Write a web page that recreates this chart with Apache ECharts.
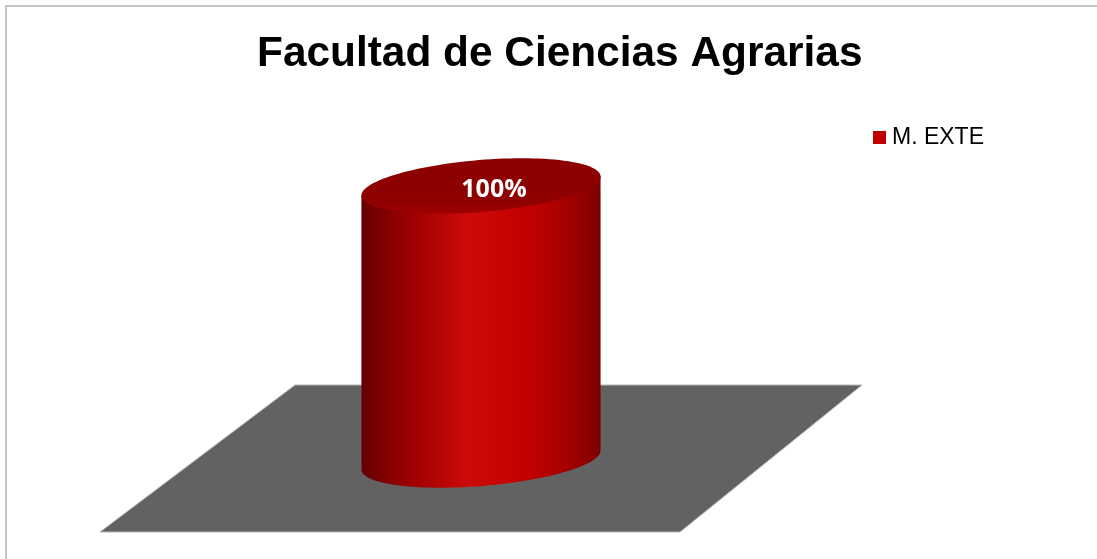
<!DOCTYPE html>
<html>
<head>
<meta charset="utf-8">
<script src="https://cdn.jsdelivr.net/npm/echarts@6/dist/echarts.min.js"></script>
<style>
  html, body { margin: 0; padding: 0; background: #fff; }
  #chart { width: 1097px; height: 559px; }
</style>
</head>
<body>
<div id="chart"></div>
<script>
// datos
var categories = ['M. EXTE'];
var values = [100];
var seriesName = 'M. EXTE';

var chart = echarts.init(document.getElementById('chart'));

// punto sobre una elipse inclinada (derecha mas alta)
function ellipsePt(cx, cy, rx, ry, phi, t) {
    return [
        cx + rx * Math.cos(t) * Math.cos(phi) + ry * Math.sin(t) * Math.sin(phi),
        cy - rx * Math.cos(t) * Math.sin(phi) + ry * Math.sin(t) * Math.cos(phi)
    ];
}

function renderFloor(params, api) {
    var base = api.coord([api.value(0), 0]);
    var cx = base[0], cy = base[1];
    return {
        type: 'polygon',
        shape: {
            points: [
                [cx - 186, cy - 75],
                [cx + 381, cy - 75],
                [cx + 199, cy + 72],
                [cx - 381, cy + 72]
            ]
        },
        style: { fill: '#626262', stroke: '#b8b8b8', lineWidth: 1 },
        silent: true
    };
}

function renderCylinder(params, api) {
    var bottom = api.coord([api.value(0), 0]);
    var top = api.coord([api.value(0), api.value(1)]);
    var rx = 120, ry = 26, phi = 0.083;
    var i, t;

    var body = [];
    body.push(ellipsePt(top[0], top[1], rx, ry, phi, Math.PI));
    for (i = 0; i <= 60; i++) {
        t = Math.PI - Math.PI * i / 60;
        body.push(ellipsePt(bottom[0], bottom[1], rx, ry, phi, t));
    }
    body.push(ellipsePt(top[0], top[1], rx, ry, phi, 0));

    var cap = [];
    for (i = 0; i < 120; i++) {
        t = Math.PI * 2 * i / 120;
        cap.push(ellipsePt(top[0], top[1], rx, ry, phi, t));
    }

    return {
        type: 'group',
        children: [
            {
                type: 'polygon',
                shape: { points: body },
                style: {
                    fill: new echarts.graphic.LinearGradient(0, 0, 1, 0, [
                        { offset: 0, color: '#650000' },
                        { offset: 0.2, color: '#9c0000' },
                        { offset: 0.45, color: '#cd0a0a' },
                        { offset: 0.7, color: '#c20000' },
                        { offset: 0.88, color: '#a00000' },
                        { offset: 1, color: '#7c0000' }
                    ])
                }
            },
            {
                type: 'polygon',
                shape: { points: cap },
                style: {
                    fill: new echarts.graphic.LinearGradient(0, 0, 0, 1, [
                        { offset: 0, color: '#8c0000' },
                        { offset: 0.8, color: '#900000' },
                        { offset: 1, color: '#a00000' }
                    ])
                }
            },
            {
                type: 'text',
                style: {
                    x: top[0] + 13,
                    y: top[1] + 4,
                    text: api.value(1) + '%',
                    fill: '#fff',
                    font: 'bold 25px "Open Sans", "Liberation Sans", sans-serif',
                    align: 'center',
                    verticalAlign: 'middle'
                }
            }
        ]
    };
}

var option = {
    backgroundColor: '#fff',
    animation: false,
    title: {
        text: 'Facultad de Ciencias Agrarias',
        left: 252,
        top: 28,
        textStyle: {
            fontFamily: '"Liberation Sans", Arial, sans-serif',
            fontSize: 42.4,
            fontWeight: 'bold',
            color: '#000'
        }
    },
    legend: {
        data: [seriesName],
        left: 868,
        top: 121,
        icon: 'rect',
        itemWidth: 13,
        itemHeight: 13,
        itemGap: 4,
        textStyle: {
            fontFamily: '"Liberation Sans", Arial, sans-serif',
            fontSize: 23,
            color: '#000',
            padding: [0, 0, 0, 1]
        }
    },
    grid: { left: 200, right: 335, top: 186, bottom: 99 },
    xAxis: { type: 'category', data: categories, show: false },
    yAxis: { type: 'value', min: 0, max: 100, show: false },
    graphic: [{
        type: 'rect',
        shape: { x: 6, y: 6, width: 1200, height: 700 },
        style: { fill: 'none', stroke: '#c6c6c6', lineWidth: 2 },
        silent: true
    }],
    series: [
        {
            name: 'suelo',
            type: 'custom',
            renderItem: renderFloor,
            data: categories.map(function (c, i) { return [i, values[i]]; }),
            silent: true,
            z: 1
        },
        {
            name: seriesName,
            type: 'custom',
            renderItem: renderCylinder,
            itemStyle: { color: '#c00000' },
            encode: { x: 0, y: 1 },
            data: categories.map(function (c, i) { return [i, values[i]]; }),
            z: 2
        }
    ]
};

chart.setOption(option);
</script>
</body>
</html>
